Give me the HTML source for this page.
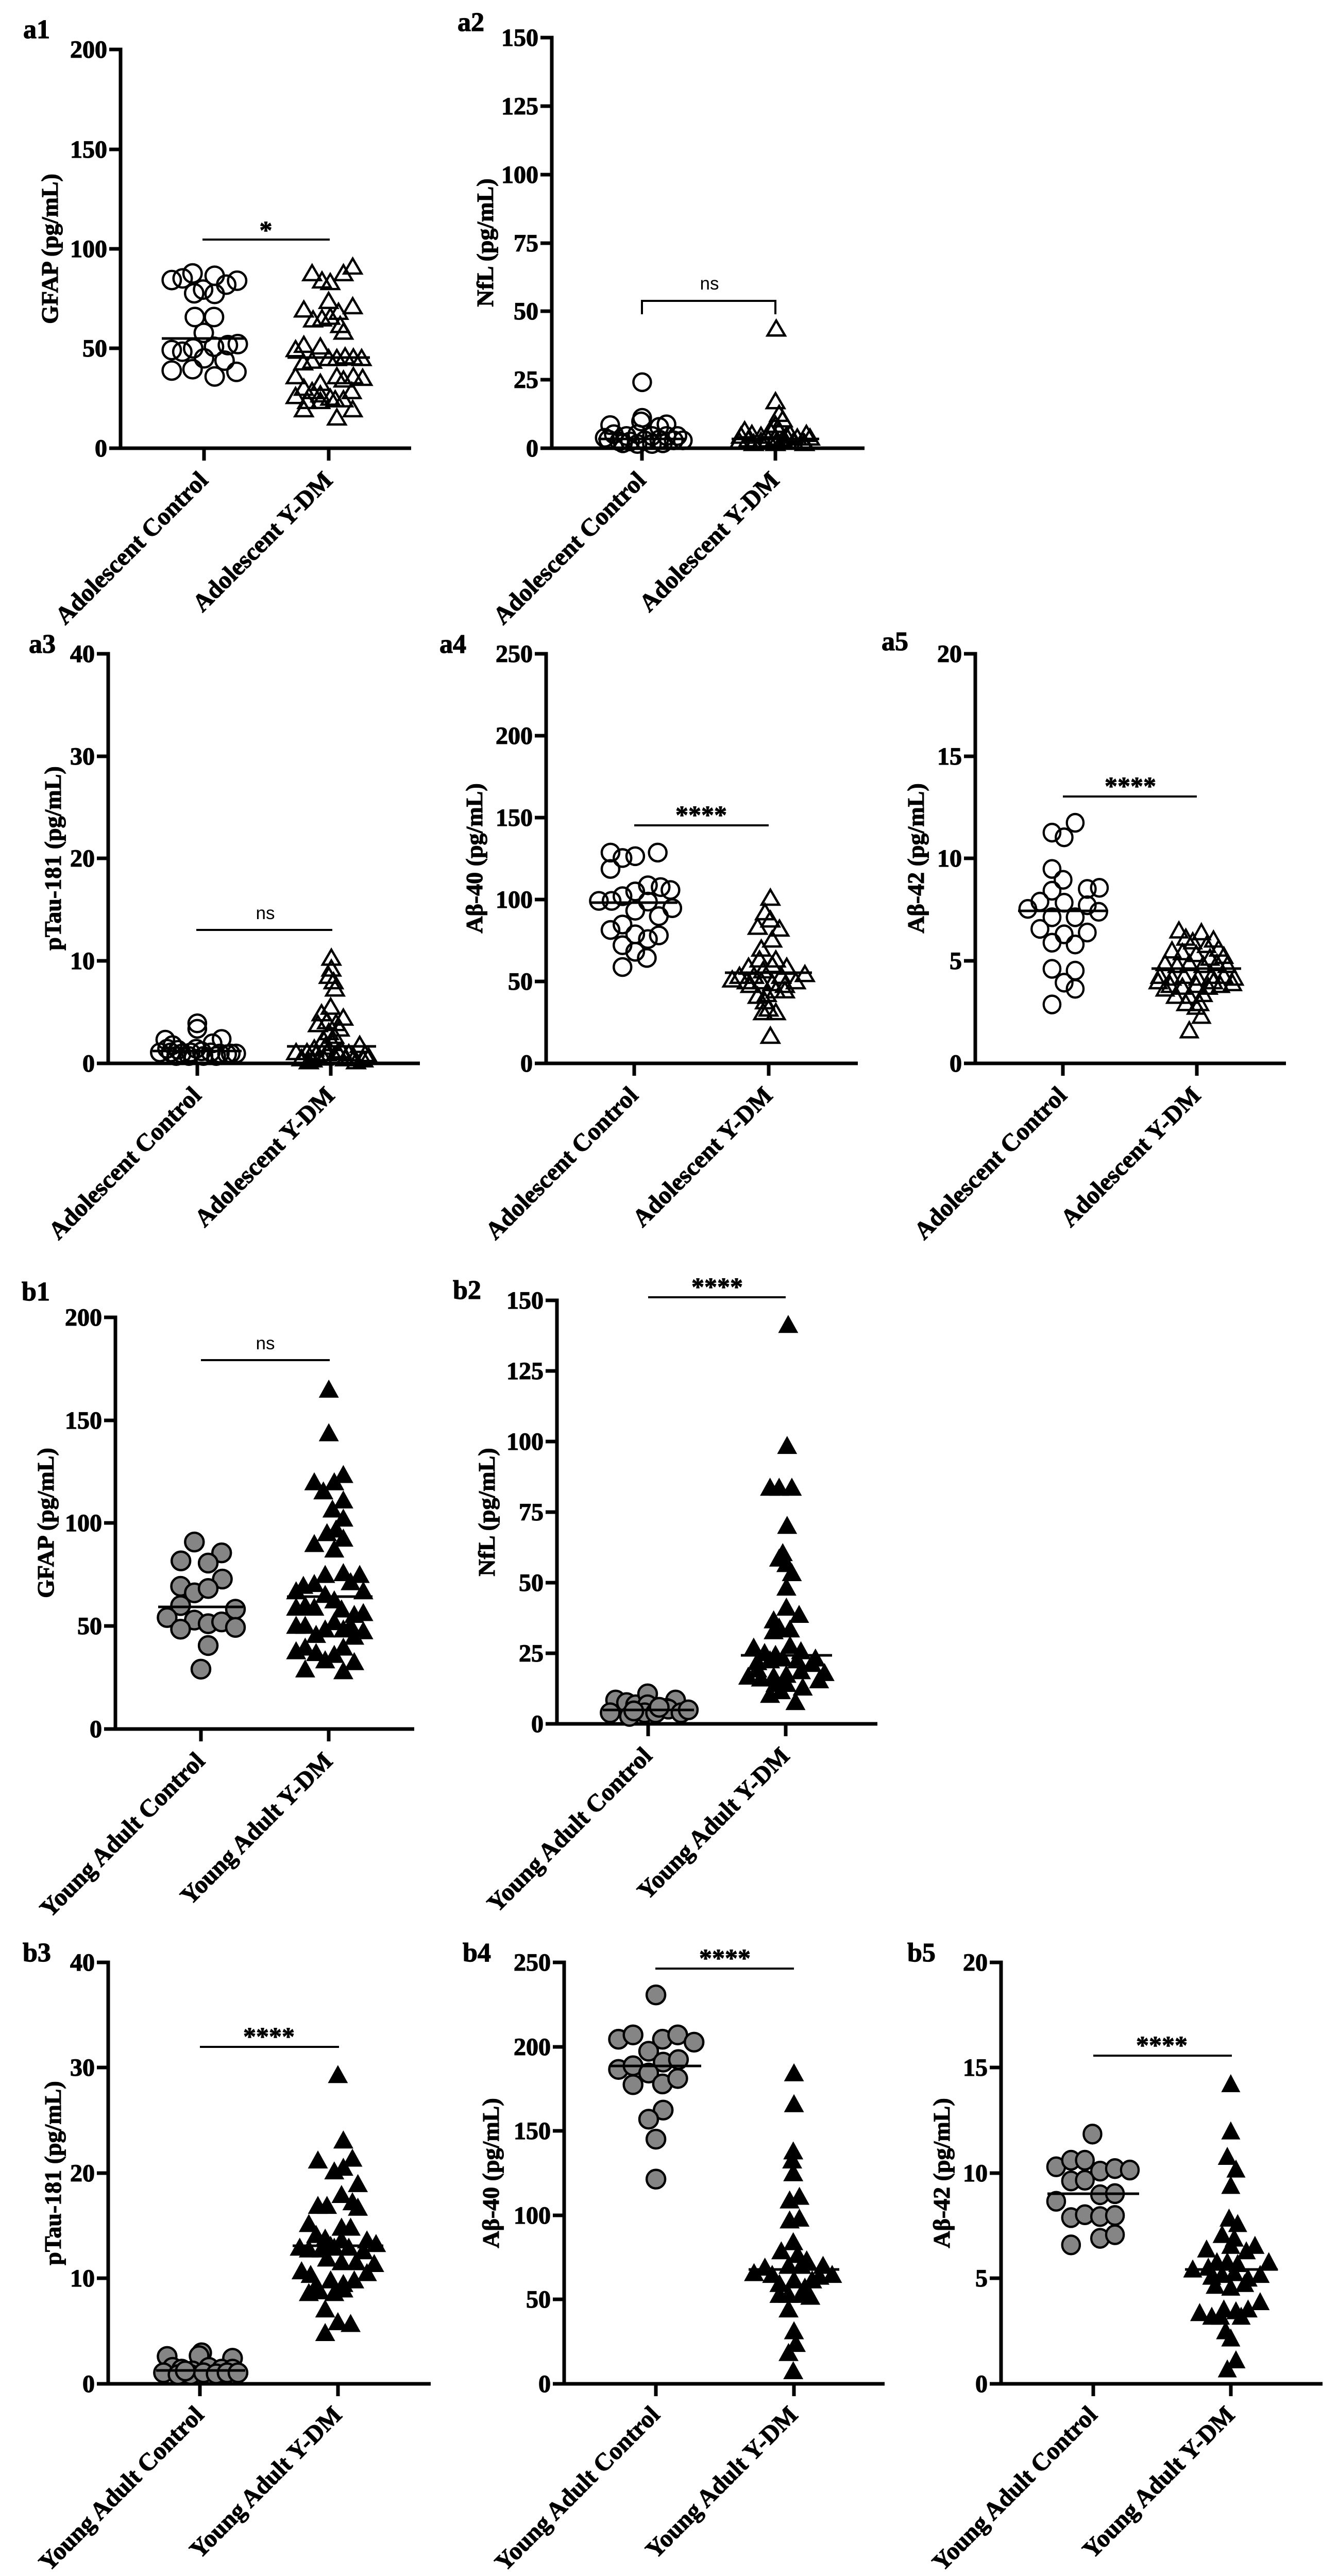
<!DOCTYPE html>
<html>
<head>
<meta charset="utf-8">
<style>
html,body{margin:0;padding:0;background:#fff;width:2597px;height:5008px;overflow:hidden;}
svg{display:block;overflow:hidden;}
.t{font-family:"Liberation Serif",serif;font-weight:bold;font-size:48px;text-anchor:end;fill:#000;stroke:#000;stroke-width:1.2px;}
.yl{font-family:"Liberation Serif",serif;font-weight:bold;font-size:46px;text-anchor:middle;fill:#000;stroke:#000;stroke-width:1.1px;}
.xl{font-family:"Liberation Serif",serif;font-weight:bold;font-size:48px;text-anchor:end;fill:#000;stroke:#000;stroke-width:1.1px;}
.pl{font-family:"Liberation Serif",serif;font-weight:bold;font-size:52px;fill:#000;stroke:#000;stroke-width:1.2px;}
.ns{font-family:"Liberation Sans",sans-serif;font-size:35px;text-anchor:middle;fill:#000;}
.st{font-family:"Liberation Serif",serif;font-weight:bold;font-size:50px;text-anchor:middle;fill:#000;stroke:#000;stroke-width:1px;}
.ax{stroke:#000;stroke-width:7;fill:none;}
.sg{stroke:#000;stroke-width:4;fill:none;}
.md{stroke:#000;stroke-width:5;fill:none;}
</style>
</head>
<body>
<svg width="2597" height="5008" viewBox="0 0 2597 5008" xmlns="http://www.w3.org/2000/svg">
<defs>
<circle id="oc" r="24.1" fill="none" stroke="#000" stroke-width="6.4"/>
<polygon id="ot" points="0,-22.7 24.1,18.4 -24.1,18.4" fill="none" stroke="#000" stroke-width="6.4"/>
<circle id="oc2" r="27.7" fill="none" stroke="#000" stroke-width="7"/>
<polygon id="ot2" points="0,-25 26.5,20.3 -26.5,20.3" fill="none" stroke="#000" stroke-width="7"/>
<circle id="gc" r="25.5" fill="#858585" stroke="#000" stroke-width="6.4"/>
<polygon id="ft" points="0,-27 27.6,22.7 -27.6,22.7" fill="#000"/>
</defs>
<rect width="2597" height="5008" fill="#fff"/>

<!-- ================= a1 ================= -->
<text class="pl" x="45" y="74">a1</text>
<path class="ax" d="M234 92.5V873.5 M212 870H798 M212 96H234 M212 290H234 M212 483H234 M212 676H234 M396 870V894 M638 870V894"/>
<text class="t" x="208" y="112">200</text>
<text class="t" x="208" y="306">150</text>
<text class="t" x="208" y="499">100</text>
<text class="t" x="208" y="692">50</text>
<text class="t" x="208" y="886">0</text>
<text class="yl" transform="translate(112,483) rotate(-90)">GFAP (pg/mL)</text>
<text class="xl" transform="translate(406,935) rotate(-45)">Adolescent Control</text>
<text class="xl" transform="translate(648,935) rotate(-45)">Adolescent Y-DM</text>
<g transform="scale(0.641)">
<use href="#oc2" x="520" y="848"/><use href="#oc2" x="553" y="843"/><use href="#oc2" x="583" y="828"/><use href="#oc2" x="650" y="835"/><use href="#oc2" x="718" y="850"/><use href="#oc2" x="588" y="888"/><use href="#oc2" x="615" y="877"/><use href="#oc2" x="650" y="890"/><use href="#oc2" x="685" y="862"/><use href="#oc2" x="590" y="960"/><use href="#oc2" x="648" y="960"/><use href="#oc2" x="617" y="1008"/><use href="#oc2" x="520" y="1060"/><use href="#oc2" x="552" y="1065"/><use href="#oc2" x="585" y="1055"/><use href="#oc2" x="648" y="1050"/><use href="#oc2" x="690" y="1045"/><use href="#oc2" x="720" y="1042"/><use href="#oc2" x="618" y="1085"/><use href="#oc2" x="680" y="1092"/><use href="#oc2" x="520" y="1122"/><use href="#oc2" x="583" y="1118"/><use href="#oc2" x="650" y="1140"/><use href="#oc2" x="716" y="1126"/>
<use href="#ot2" x="945" y="828"/><use href="#ot2" x="975" y="850"/><use href="#ot2" x="1000" y="855"/><use href="#ot2" x="1040" y="828"/><use href="#ot2" x="1068" y="808"/><use href="#ot2" x="995" y="912"/><use href="#ot2" x="920" y="938"/><use href="#ot2" x="948" y="968"/><use href="#ot2" x="975" y="965"/><use href="#ot2" x="1000" y="960"/><use href="#ot2" x="1025" y="945"/><use href="#ot2" x="1068" y="928"/><use href="#ot2" x="1040" y="1005"/><use href="#ot2" x="1030" y="985"/><use href="#ot2" x="895" y="1058"/><use href="#ot2" x="920" y="1045"/><use href="#ot2" x="970" y="1050"/><use href="#ot2" x="995" y="1085"/><use href="#ot2" x="945" y="1093"/><use href="#ot2" x="918" y="1098"/><use href="#ot2" x="1020" y="1085"/><use href="#ot2" x="1045" y="1080"/><use href="#ot2" x="1070" y="1083"/><use href="#ot2" x="1095" y="1085"/><use href="#ot2" x="895" y="1140"/><use href="#ot2" x="920" y="1175"/><use href="#ot2" x="945" y="1185"/><use href="#ot2" x="970" y="1160"/><use href="#ot2" x="1000" y="1205"/><use href="#ot2" x="1020" y="1140"/><use href="#ot2" x="1040" y="1150"/><use href="#ot2" x="1070" y="1140"/><use href="#ot2" x="1098" y="1145"/><use href="#ot2" x="895" y="1200"/><use href="#ot2" x="930" y="1215"/><use href="#ot2" x="970" y="1215"/><use href="#ot2" x="1015" y="1210"/><use href="#ot2" x="1040" y="1210"/><use href="#ot2" x="1065" y="1185"/><use href="#ot2" x="1068" y="1240"/><use href="#ot2" x="920" y="1240"/><use href="#ot2" x="1020" y="1265"/><use href="#ot2" x="970" y="1195"/>
</g>
<path class="md" d="M314 657H474 M558 694H718"/>
<path class="sg" d="M393 465H640"/>
<text class="st" x="516" y="463">*</text>

<!-- ================= a2 ================= -->
<text class="pl" x="888" y="60">a2</text>
<path class="ax" d="M1071 69.5V873.5 M1049 870H1678 M1049 737H1071 M1049 604H1071 M1049 472H1071 M1049 339H1071 M1049 206H1071 M1049 73H1071 M1246 870V894 M1505 870V894"/>
<text class="t" x="1045" y="886">0</text>
<text class="t" x="1045" y="753">25</text>
<text class="t" x="1045" y="620">50</text>
<text class="t" x="1045" y="488">75</text>
<text class="t" x="1045" y="355">100</text>
<text class="t" x="1045" y="222">125</text>
<text class="t" x="1045" y="89">150</text>
<text class="yl" transform="translate(957,471) rotate(-90)">NfL (pg/mL)</text>
<text class="xl" transform="translate(1256,935) rotate(-45)">Adolescent Control</text>
<text class="xl" transform="translate(1515,935) rotate(-45)">Adolescent Y-DM</text>
<g transform="translate(800,0) scale(0.7052)">
<use href="#oc" x="633" y="1052"/><use href="#oc" x="633" y="1150"/><use href="#oc" x="545" y="1170"/><use href="#oc" x="630" y="1160"/><use href="#oc" x="700" y="1168"/><use href="#oc" x="680" y="1175"/><use href="#oc" x="555" y="1195"/><use href="#oc" x="590" y="1200"/><use href="#oc" x="620" y="1195"/><use href="#oc" x="660" y="1200"/><use href="#oc" x="700" y="1200"/><use href="#oc" x="730" y="1200"/><use href="#oc" x="540" y="1210"/><use href="#oc" x="570" y="1215"/><use href="#oc" x="600" y="1215"/><use href="#oc" x="640" y="1212"/><use href="#oc" x="680" y="1210"/><use href="#oc" x="720" y="1212"/><use href="#oc" x="745" y="1212"/><use href="#oc" x="580" y="1220"/><use href="#oc" x="620" y="1222"/><use href="#oc" x="660" y="1222"/><use href="#oc" x="690" y="1220"/><use href="#oc" x="530" y="1205"/>
<use href="#ot" x="1002" y="905"/><use href="#ot" x="1000" y="1105"/><use href="#ot" x="1010" y="1140"/><use href="#ot" x="1020" y="1155"/><use href="#ot" x="1000" y="1170"/><use href="#ot" x="985" y="1185"/><use href="#ot" x="915" y="1185"/><use href="#ot" x="935" y="1195"/><use href="#ot" x="905" y="1200"/><use href="#ot" x="960" y="1200"/><use href="#ot" x="1040" y="1195"/><use href="#ot" x="1085" y="1195"/><use href="#ot" x="1060" y="1205"/><use href="#ot" x="1095" y="1205"/><use href="#ot" x="925" y="1210"/><use href="#ot" x="980" y="1210"/><use href="#ot" x="1020" y="1210"/><use href="#ot" x="1050" y="1215"/><use href="#ot" x="1075" y="1215"/><use href="#ot" x="940" y="1220"/><use href="#ot" x="1000" y="1220"/><use href="#ot" x="1080" y="1220"/><use href="#ot" x="900" y="1215"/><use href="#ot" x="1000" y="1205"/><use href="#ot" x="1030" y="1200"/><use href="#ot" x="960" y="1215"/><use href="#ot" x="1010" y="1185"/>
</g>
<path class="md" d="M1161 852H1331 M1420 852H1590"/>
<path class="sg" d="M1246 610V584H1505V610"/>
<text class="ns" x="1377" y="562">ns</text>

<!-- ================= a3 ================= -->
<text class="pl" x="56" y="1267">a3</text>
<path class="ax" d="M210 1265.5V2067.5 M188 2064H815 M188 1865H210 M188 1666H210 M188 1468H210 M188 1269H210 M383 2064V2088 M642 2064V2088"/>
<text class="t" x="184" y="2080">0</text>
<text class="t" x="184" y="1881">10</text>
<text class="t" x="184" y="1682">20</text>
<text class="t" x="184" y="1484">30</text>
<text class="t" x="184" y="1285">40</text>
<text class="yl" transform="translate(118,1666) rotate(-90)">pTau-181 (pg/mL)</text>
<text class="xl" transform="translate(393,2129) rotate(-45)">Adolescent Control</text>
<text class="xl" transform="translate(652,2129) rotate(-45)">Adolescent Y-DM</text>
<g transform="translate(0,1200) scale(0.7052)">
<use href="#oc" x="543" y="1115"/><use href="#oc" x="543" y="1130"/><use href="#oc" x="455" y="1160"/><use href="#oc" x="475" y="1175"/><use href="#oc" x="610" y="1158"/><use href="#oc" x="585" y="1170"/><use href="#oc" x="440" y="1195"/><use href="#oc" x="470" y="1195"/><use href="#oc" x="500" y="1198"/><use href="#oc" x="525" y="1195"/><use href="#oc" x="555" y="1192"/><use href="#oc" x="580" y="1195"/><use href="#oc" x="605" y="1198"/><use href="#oc" x="635" y="1198"/><use href="#oc" x="650" y="1198"/><use href="#oc" x="485" y="1205"/><use href="#oc" x="520" y="1205"/><use href="#oc" x="560" y="1205"/><use href="#oc" x="595" y="1205"/><use href="#oc" x="625" y="1200"/><use href="#oc" x="490" y="1188"/><use href="#oc" x="540" y="1185"/><use href="#oc" x="460" y="1185"/>
<use href="#ot" x="912" y="935"/><use href="#ot" x="912" y="965"/><use href="#ot" x="905" y="985"/><use href="#ot" x="918" y="1000"/><use href="#ot" x="922" y="1020"/><use href="#ot" x="910" y="1070"/><use href="#ot" x="885" y="1088"/><use href="#ot" x="945" y="1100"/><use href="#ot" x="875" y="1118"/><use href="#ot" x="925" y="1115"/><use href="#ot" x="900" y="1110"/><use href="#ot" x="935" y="1130"/><use href="#ot" x="905" y="1140"/><use href="#ot" x="920" y="1150"/><use href="#ot" x="890" y="1160"/><use href="#ot" x="915" y="1170"/><use href="#ot" x="990" y="1175"/><use href="#ot" x="815" y="1195"/><use href="#ot" x="845" y="1195"/><use href="#ot" x="870" y="1200"/><use href="#ot" x="900" y="1198"/><use href="#ot" x="930" y="1195"/><use href="#ot" x="960" y="1198"/><use href="#ot" x="1005" y="1200"/><use href="#ot" x="1015" y="1208"/><use href="#ot" x="830" y="1212"/><use href="#ot" x="860" y="1215"/><use href="#ot" x="890" y="1210"/><use href="#ot" x="950" y="1212"/><use href="#ot" x="975" y="1210"/><use href="#ot" x="920" y="1205"/><use href="#ot" x="850" y="1220"/><use href="#ot" x="980" y="1220"/><use href="#ot" x="1000" y="1215"/><use href="#ot" x="940" y="1190"/><use href="#ot" x="865" y="1185"/><use href="#ot" x="895" y="1180"/>
</g>
<path class="md" d="M296 2040H469 M557 2031H730"/>
<path class="sg" d="M381 1805H645"/>
<text class="ns" x="515" y="1784">ns</text>

<!-- ================= a4 ================= -->
<text class="pl" x="853" y="1267">a4</text>
<path class="ax" d="M1060 1265.5V2067.5 M1038 2064H1665 M1038 1905H1060 M1038 1746H1060 M1038 1587H1060 M1038 1428H1060 M1038 1269H1060 M1231 2064V2088 M1492 2064V2088"/>
<text class="t" x="1034" y="2080">0</text>
<text class="t" x="1034" y="1921">50</text>
<text class="t" x="1034" y="1762">100</text>
<text class="t" x="1034" y="1603">150</text>
<text class="t" x="1034" y="1444">200</text>
<text class="t" x="1034" y="1285">250</text>
<text class="yl" transform="translate(936,1666) rotate(-90)">Aβ-40 (pg/mL)</text>
<text class="xl" transform="translate(1241,2129) rotate(-45)">Adolescent Control</text>
<text class="xl" transform="translate(1502,2129) rotate(-45)">Adolescent Y-DM</text>
<g transform="translate(850,1200) scale(0.7052)">
<use href="#oc" x="475" y="645"/><use href="#oc" x="508" y="660"/><use href="#oc" x="543" y="655"/><use href="#oc" x="605" y="645"/><use href="#oc" x="475" y="690"/><use href="#oc" x="578" y="735"/><use href="#oc" x="613" y="740"/><use href="#oc" x="640" y="748"/><use href="#oc" x="443" y="778"/><use href="#oc" x="478" y="778"/><use href="#oc" x="508" y="765"/><use href="#oc" x="543" y="752"/><use href="#oc" x="578" y="780"/><use href="#oc" x="543" y="805"/><use href="#oc" x="608" y="820"/><use href="#oc" x="645" y="798"/><use href="#oc" x="508" y="843"/><use href="#oc" x="475" y="858"/><use href="#oc" x="543" y="870"/><use href="#oc" x="608" y="873"/><use href="#oc" x="508" y="900"/><use href="#oc" x="578" y="883"/><use href="#oc" x="543" y="918"/><use href="#oc" x="575" y="935"/><use href="#oc" x="508" y="960"/>
<use href="#ot" x="915" y="770"/><use href="#ot" x="900" y="810"/><use href="#ot" x="915" y="830"/><use href="#ot" x="880" y="850"/><use href="#ot" x="940" y="855"/><use href="#ot" x="920" y="885"/><use href="#ot" x="890" y="910"/><use href="#ot" x="885" y="940"/><use href="#ot" x="930" y="940"/><use href="#ot" x="855" y="960"/><use href="#ot" x="960" y="960"/><use href="#ot" x="920" y="955"/><use href="#ot" x="895" y="970"/><use href="#ot" x="830" y="985"/><use href="#ot" x="945" y="985"/><use href="#ot" x="1010" y="980"/><use href="#ot" x="985" y="1000"/><use href="#ot" x="810" y="995"/><use href="#ot" x="860" y="1010"/><use href="#ot" x="890" y="1000"/><use href="#ot" x="920" y="1005"/><use href="#ot" x="955" y="1010"/><use href="#ot" x="905" y="1035"/><use href="#ot" x="930" y="1025"/><use href="#ot" x="955" y="1025"/><use href="#ot" x="880" y="1040"/><use href="#ot" x="900" y="1055"/><use href="#ot" x="910" y="1075"/><use href="#ot" x="895" y="1085"/><use href="#ot" x="930" y="1085"/><use href="#ot" x="915" y="1150"/><use href="#ot" x="850" y="1000"/><use href="#ot" x="870" y="985"/>
</g>
<path class="md" d="M1146 1752H1315 M1407 1888H1576"/>
<path class="sg" d="M1231 1602H1492"/>
<text class="st" x="1361" y="1598">****</text>

<!-- ================= a5 ================= -->
<text class="pl" x="1711" y="1262">a5</text>
<path class="ax" d="M1893 1265.5V2067.5 M1871 2064H2496 M1871 1865H1893 M1871 1666H1893 M1871 1468H1893 M1871 1269H1893 M2063 2064V2088 M2323 2064V2088"/>
<text class="t" x="1867" y="2080">0</text>
<text class="t" x="1867" y="1881">5</text>
<text class="t" x="1867" y="1682">10</text>
<text class="t" x="1867" y="1484">15</text>
<text class="t" x="1867" y="1285">20</text>
<text class="yl" transform="translate(1793,1666) rotate(-90)">Aβ-42 (pg/mL)</text>
<text class="xl" transform="translate(2073,2129) rotate(-45)">Adolescent Control</text>
<text class="xl" transform="translate(2333,2129) rotate(-45)">Adolescent Y-DM</text>
<g transform="translate(1550,1200) scale(0.6711,0.7052)">
<use href="#oc" x="800" y="563"/><use href="#oc" x="733" y="590"/><use href="#oc" x="768" y="603"/><use href="#oc" x="733" y="690"/><use href="#oc" x="765" y="720"/><use href="#oc" x="733" y="750"/><use href="#oc" x="835" y="745"/><use href="#oc" x="870" y="742"/><use href="#oc" x="698" y="780"/><use href="#oc" x="663" y="800"/><use href="#oc" x="768" y="783"/><use href="#oc" x="835" y="790"/><use href="#oc" x="868" y="808"/><use href="#oc" x="733" y="823"/><use href="#oc" x="800" y="823"/><use href="#oc" x="698" y="855"/><use href="#oc" x="768" y="870"/><use href="#oc" x="835" y="865"/><use href="#oc" x="733" y="893"/><use href="#oc" x="800" y="898"/><use href="#oc" x="733" y="965"/><use href="#oc" x="800" y="970"/><use href="#oc" x="768" y="1003"/><use href="#oc" x="800" y="1020"/><use href="#oc" x="733" y="1063"/>
<use href="#ot" x="1100" y="860"/><use href="#ot" x="1165" y="865"/><use href="#ot" x="1120" y="880"/><use href="#ot" x="1200" y="885"/><use href="#ot" x="1140" y="890"/><use href="#ot" x="1180" y="900"/><use href="#ot" x="1215" y="910"/><use href="#ot" x="1080" y="915"/><use href="#ot" x="1110" y="920"/><use href="#ot" x="1150" y="925"/><use href="#ot" x="1230" y="930"/><use href="#ot" x="1190" y="935"/><use href="#ot" x="1060" y="950"/><use href="#ot" x="1095" y="955"/><use href="#ot" x="1130" y="950"/><use href="#ot" x="1170" y="955"/><use href="#ot" x="1210" y="950"/><use href="#ot" x="1240" y="955"/><use href="#ot" x="1045" y="985"/><use href="#ot" x="1080" y="990"/><use href="#ot" x="1115" y="985"/><use href="#ot" x="1155" y="990"/><use href="#ot" x="1195" y="985"/><use href="#ot" x="1230" y="985"/><use href="#ot" x="1260" y="990"/><use href="#ot" x="1040" y="1000"/><use href="#ot" x="1075" y="1010"/><use href="#ot" x="1110" y="1015"/><use href="#ot" x="1150" y="1010"/><use href="#ot" x="1185" y="1015"/><use href="#ot" x="1220" y="1010"/><use href="#ot" x="1255" y="1005"/><use href="#ot" x="1090" y="1040"/><use href="#ot" x="1130" y="1040"/><use href="#ot" x="1170" y="1035"/><use href="#ot" x="1120" y="1060"/><use href="#ot" x="1160" y="1060"/><use href="#ot" x="1150" y="1070"/><use href="#ot" x="1165" y="1095"/><use href="#ot" x="1130" y="1135"/><use href="#ot" x="1060" y="1020"/><use href="#ot" x="1200" y="1000"/>
</g>
<path class="md" d="M1976 1768H2151 M2235 1880H2409"/>
<path class="sg" d="M2063 1546H2323"/>
<text class="st" x="2194" y="1542">****</text>

<!-- ================= b1 ================= -->
<text class="pl" x="42" y="2524">b1</text>
<path class="ax" d="M224 2553.5V3359.5 M202 3356H804 M202 3156H224 M202 2956H224 M202 2757H224 M202 2557H224 M390 3356V3380 M638 3356V3380"/>
<text class="t" x="198" y="3372">0</text>
<text class="t" x="198" y="3172">50</text>
<text class="t" x="198" y="2972">100</text>
<text class="t" x="198" y="2773">150</text>
<text class="t" x="198" y="2573">200</text>
<text class="yl" transform="translate(104,2956) rotate(-90)">GFAP (pg/mL)</text>
<text class="xl" transform="translate(400,3421) rotate(-45)">Young Adult Control</text>
<text class="xl" transform="translate(648,3421) rotate(-45)">Young Adult Y-DM</text>
<g transform="translate(0,2450) scale(0.7052)">
<use href="#gc" x="535" y="770"/><use href="#gc" x="498" y="822"/><use href="#gc" x="610" y="800"/><use href="#gc" x="573" y="828"/><use href="#gc" x="612" y="872"/><use href="#gc" x="497" y="892"/><use href="#gc" x="535" y="910"/><use href="#gc" x="573" y="898"/><use href="#gc" x="497" y="945"/><use href="#gc" x="460" y="978"/><use href="#gc" x="535" y="985"/><use href="#gc" x="573" y="995"/><use href="#gc" x="610" y="990"/><use href="#gc" x="648" y="955"/><use href="#gc" x="648" y="1005"/><use href="#gc" x="497" y="1010"/><use href="#gc" x="573" y="1055"/><use href="#gc" x="553" y="1120"/>
<use href="#ft" x="905" y="350"/><use href="#ft" x="905" y="470"/><use href="#ft" x="865" y="605"/><use href="#ft" x="945" y="585"/><use href="#ft" x="920" y="605"/><use href="#ft" x="890" y="630"/><use href="#ft" x="945" y="655"/><use href="#ft" x="915" y="680"/><use href="#ft" x="945" y="705"/><use href="#ft" x="900" y="745"/><use href="#ft" x="925" y="735"/><use href="#ft" x="865" y="775"/><use href="#ft" x="945" y="760"/><use href="#ft" x="920" y="790"/><use href="#ft" x="895" y="860"/><use href="#ft" x="865" y="885"/><use href="#ft" x="835" y="890"/><use href="#ft" x="815" y="905"/><use href="#ft" x="945" y="855"/><use href="#ft" x="990" y="860"/><use href="#ft" x="965" y="880"/><use href="#ft" x="1000" y="905"/><use href="#ft" x="895" y="915"/><use href="#ft" x="920" y="930"/><use href="#ft" x="815" y="950"/><use href="#ft" x="840" y="945"/><use href="#ft" x="865" y="950"/><use href="#ft" x="940" y="955"/><use href="#ft" x="975" y="970"/><use href="#ft" x="1000" y="965"/><use href="#ft" x="815" y="1000"/><use href="#ft" x="840" y="1000"/><use href="#ft" x="870" y="1025"/><use href="#ft" x="895" y="1010"/><use href="#ft" x="920" y="990"/><use href="#ft" x="945" y="1010"/><use href="#ft" x="975" y="1030"/><use href="#ft" x="1000" y="1015"/><use href="#ft" x="815" y="1070"/><use href="#ft" x="840" y="1060"/><use href="#ft" x="870" y="1075"/><use href="#ft" x="895" y="1095"/><use href="#ft" x="920" y="1080"/><use href="#ft" x="945" y="1060"/><use href="#ft" x="975" y="1100"/><use href="#ft" x="840" y="1120"/><use href="#ft" x="945" y="1125"/><use href="#ft" x="965" y="1000"/>
</g>
<path class="md" d="M307 3119H472 M557 3099H723"/>
<path class="sg" d="M390 2640H640"/>
<text class="ns" x="515" y="2619">ns</text>

<!-- ================= b2 ================= -->
<text class="pl" x="879" y="2521">b2</text>
<path class="ax" d="M1081 2520.5V3349.5 M1059 3346H1703 M1059 3209H1081 M1059 3072H1081 M1059 2935H1081 M1059 2798H1081 M1059 2661H1081 M1059 2524H1081 M1258 3346V3370 M1525 3346V3370"/>
<text class="t" x="1055" y="3362">0</text>
<text class="t" x="1055" y="3225">25</text>
<text class="t" x="1055" y="3088">50</text>
<text class="t" x="1055" y="2951">75</text>
<text class="t" x="1055" y="2814">100</text>
<text class="t" x="1055" y="2677">125</text>
<text class="t" x="1055" y="2540">150</text>
<text class="yl" transform="translate(960,2935) rotate(-90)">NfL (pg/mL)</text>
<text class="xl" transform="translate(1268,3411) rotate(-45)">Young Adult Control</text>
<text class="xl" transform="translate(1535,3411) rotate(-45)">Young Adult Y-DM</text>
<g transform="translate(800,2450) scale(0.7052)">
<use href="#gc" x="560" y="1205"/><use href="#gc" x="590" y="1212"/><use href="#gc" x="615" y="1218"/><use href="#gc" x="648" y="1188"/><use href="#gc" x="648" y="1218"/><use href="#gc" x="725" y="1205"/><use href="#gc" x="700" y="1228"/><use href="#gc" x="545" y="1240"/><use href="#gc" x="598" y="1250"/><use href="#gc" x="640" y="1240"/><use href="#gc" x="670" y="1240"/><use href="#gc" x="705" y="1230"/><use href="#gc" x="740" y="1240"/><use href="#gc" x="760" y="1232"/><use href="#gc" x="610" y="1235"/><use href="#gc" x="680" y="1225"/>
<use href="#ft" x="1035" y="172"/><use href="#ft" x="1032" y="505"/><use href="#ft" x="985" y="620"/><use href="#ft" x="1010" y="620"/><use href="#ft" x="1045" y="620"/><use href="#ft" x="1032" y="725"/><use href="#ft" x="1020" y="800"/><use href="#ft" x="1010" y="815"/><use href="#ft" x="1030" y="830"/><use href="#ft" x="1045" y="855"/><use href="#ft" x="1030" y="895"/><use href="#ft" x="1030" y="950"/><use href="#ft" x="995" y="985"/><use href="#ft" x="1065" y="970"/><use href="#ft" x="1010" y="1005"/><use href="#ft" x="1040" y="1010"/><use href="#ft" x="995" y="1015"/><use href="#ft" x="940" y="1060"/><use href="#ft" x="970" y="1075"/><use href="#ft" x="1000" y="1080"/><use href="#ft" x="1040" y="1055"/><use href="#ft" x="1070" y="1070"/><use href="#ft" x="1110" y="1090"/><use href="#ft" x="950" y="1100"/><use href="#ft" x="985" y="1095"/><use href="#ft" x="1020" y="1090"/><use href="#ft" x="1060" y="1095"/><use href="#ft" x="1100" y="1105"/><use href="#ft" x="925" y="1140"/><use href="#ft" x="960" y="1145"/><use href="#ft" x="995" y="1140"/><use href="#ft" x="1030" y="1135"/><use href="#ft" x="1070" y="1125"/><use href="#ft" x="1135" y="1130"/><use href="#ft" x="1120" y="1150"/><use href="#ft" x="985" y="1190"/><use href="#ft" x="1015" y="1180"/><use href="#ft" x="1075" y="1170"/><use href="#ft" x="1055" y="1210"/><use href="#ft" x="1030" y="1160"/><use href="#ft" x="1000" y="1160"/><use href="#ft" x="950" y="1120"/>
</g>
<path class="md" d="M1170 3319H1347 M1438 3213H1615"/>
<path class="sg" d="M1258 2518H1525"/>
<text class="st" x="1392" y="2514">****</text>

<!-- ================= b3 ================= -->
<text class="pl" x="44" y="3807">b3</text>
<path class="ax" d="M210 3805.5V4630.5 M188 4627H836 M188 4422H210 M188 4218H210 M188 4013H210 M188 3809H210 M388 4627V4651 M656 4627V4651"/>
<text class="t" x="184" y="4643">0</text>
<text class="t" x="184" y="4438">10</text>
<text class="t" x="184" y="4234">20</text>
<text class="t" x="184" y="4029">30</text>
<text class="t" x="184" y="3825">40</text>
<text class="yl" transform="translate(118,4218) rotate(-90)">pTau-181 (pg/mL)</text>
<text class="xl" transform="translate(398,4690) rotate(-45)">Young Adult Control</text>
<text class="xl" transform="translate(666,4690) rotate(-45)">Young Adult Y-DM</text>
<g transform="translate(0,3650) scale(0.7052)">
<use href="#gc" x="460" y="1310"/><use href="#gc" x="555" y="1300"/><use href="#gc" x="548" y="1308"/><use href="#gc" x="640" y="1315"/><use href="#gc" x="475" y="1340"/><use href="#gc" x="500" y="1345"/><use href="#gc" x="530" y="1350"/><use href="#gc" x="575" y="1340"/><use href="#gc" x="610" y="1345"/><use href="#gc" x="640" y="1345"/><use href="#gc" x="450" y="1355"/><use href="#gc" x="490" y="1360"/><use href="#gc" x="525" y="1360"/><use href="#gc" x="560" y="1355"/><use href="#gc" x="595" y="1358"/><use href="#gc" x="625" y="1355"/><use href="#gc" x="655" y="1355"/><use href="#gc" x="510" y="1350"/>
<use href="#ft" x="930" y="535"/><use href="#ft" x="945" y="715"/><use href="#ft" x="875" y="770"/><use href="#ft" x="970" y="765"/><use href="#ft" x="920" y="800"/><use href="#ft" x="945" y="790"/><use href="#ft" x="985" y="835"/><use href="#ft" x="940" y="865"/><use href="#ft" x="875" y="895"/><use href="#ft" x="900" y="895"/><use href="#ft" x="970" y="885"/><use href="#ft" x="985" y="900"/><use href="#ft" x="850" y="945"/><use href="#ft" x="940" y="955"/><use href="#ft" x="965" y="955"/><use href="#ft" x="870" y="975"/><use href="#ft" x="895" y="985"/><use href="#ft" x="1010" y="990"/><use href="#ft" x="940" y="990"/><use href="#ft" x="910" y="1005"/><use href="#ft" x="825" y="1010"/><use href="#ft" x="850" y="1015"/><use href="#ft" x="885" y="1015"/><use href="#ft" x="920" y="1010"/><use href="#ft" x="960" y="1010"/><use href="#ft" x="1035" y="1000"/><use href="#ft" x="1000" y="1020"/><use href="#ft" x="900" y="1040"/><use href="#ft" x="940" y="1050"/><use href="#ft" x="980" y="1050"/><use href="#ft" x="1030" y="1055"/><use href="#ft" x="830" y="1075"/><use href="#ft" x="855" y="1085"/><use href="#ft" x="870" y="1115"/><use href="#ft" x="910" y="1100"/><use href="#ft" x="945" y="1110"/><use href="#ft" x="975" y="1100"/><use href="#ft" x="1010" y="1080"/><use href="#ft" x="850" y="1135"/><use href="#ft" x="880" y="1130"/><use href="#ft" x="920" y="1135"/><use href="#ft" x="945" y="1125"/><use href="#ft" x="895" y="1180"/><use href="#ft" x="930" y="1215"/><use href="#ft" x="965" y="1220"/><use href="#ft" x="895" y="1245"/>
</g>
<path class="md" d="M303 4601H476 M568 4359H744"/>
<path class="sg" d="M388 3973H658"/>
<text class="st" x="522" y="3969">****</text>

<!-- ================= b4 ================= -->
<text class="pl" x="898" y="3807">b4</text>
<path class="ax" d="M1095 3805.5V4630.5 M1073 4627H1717 M1073 4463H1095 M1073 4300H1095 M1073 4136H1095 M1073 3973H1095 M1073 3809H1095 M1273 4627V4651 M1541 4627V4651"/>
<text class="t" x="1069" y="4643">0</text>
<text class="t" x="1069" y="4479">50</text>
<text class="t" x="1069" y="4316">100</text>
<text class="t" x="1069" y="4152">150</text>
<text class="t" x="1069" y="3989">200</text>
<text class="t" x="1069" y="3825">250</text>
<text class="yl" transform="translate(968,4218) rotate(-90)">Aβ-40 (pg/mL)</text>
<text class="xl" transform="translate(1283,4690) rotate(-45)">Young Adult Control</text>
<text class="xl" transform="translate(1551,4690) rotate(-45)">Young Adult Y-DM</text>
<g transform="translate(850,3650) scale(0.7052)">
<use href="#gc" x="600" y="315"/><use href="#gc" x="497" y="437"/><use href="#gc" x="537" y="425"/><use href="#gc" x="618" y="437"/><use href="#gc" x="660" y="425"/><use href="#gc" x="705" y="445"/><use href="#gc" x="580" y="470"/><use href="#gc" x="620" y="500"/><use href="#gc" x="662" y="493"/><use href="#gc" x="497" y="520"/><use href="#gc" x="537" y="510"/><use href="#gc" x="580" y="530"/><use href="#gc" x="618" y="560"/><use href="#gc" x="537" y="562"/><use href="#gc" x="660" y="545"/><use href="#gc" x="620" y="632"/><use href="#gc" x="580" y="657"/><use href="#gc" x="600" y="712"/><use href="#gc" x="600" y="822"/>
<use href="#ft" x="980" y="530"/><use href="#ft" x="980" y="615"/><use href="#ft" x="978" y="745"/><use href="#ft" x="975" y="770"/><use href="#ft" x="978" y="805"/><use href="#ft" x="968" y="880"/><use href="#ft" x="995" y="870"/><use href="#ft" x="968" y="935"/><use href="#ft" x="995" y="930"/><use href="#ft" x="978" y="995"/><use href="#ft" x="945" y="1020"/><use href="#ft" x="990" y="1030"/><use href="#ft" x="1015" y="1045"/><use href="#ft" x="900" y="1065"/><use href="#ft" x="870" y="1080"/><use href="#ft" x="920" y="1085"/><use href="#ft" x="965" y="1060"/><use href="#ft" x="1000" y="1060"/><use href="#ft" x="1060" y="1060"/><use href="#ft" x="1085" y="1085"/><use href="#ft" x="1050" y="1090"/><use href="#ft" x="1030" y="1100"/><use href="#ft" x="980" y="1100"/><use href="#ft" x="940" y="1140"/><use href="#ft" x="965" y="1140"/><use href="#ft" x="1000" y="1140"/><use href="#ft" x="1025" y="1145"/><use href="#ft" x="965" y="1180"/><use href="#ft" x="980" y="1240"/><use href="#ft" x="985" y="1275"/><use href="#ft" x="965" y="1300"/><use href="#ft" x="978" y="1350"/><use href="#ft" x="940" y="1110"/><use href="#ft" x="1010" y="1120"/>
</g>
<path class="md" d="M1185 4010H1361 M1453 4405H1629"/>
<path class="sg" d="M1272 3821H1541"/>
<text class="st" x="1407" y="3817">****</text>

<!-- ================= b5 ================= -->
<text class="pl" x="1761" y="3807">b5</text>
<path class="ax" d="M1943 3805.5V4630.5 M1921 4627H2567 M1921 4422H1943 M1921 4218H1943 M1921 4013H1943 M1921 3809H1943 M2122 4627V4651 M2389 4627V4651"/>
<text class="t" x="1917" y="4643">0</text>
<text class="t" x="1917" y="4438">5</text>
<text class="t" x="1917" y="4234">10</text>
<text class="t" x="1917" y="4029">15</text>
<text class="t" x="1917" y="3825">20</text>
<text class="yl" transform="translate(1843,4218) rotate(-90)">Aβ-42 (pg/mL)</text>
<text class="xl" transform="translate(2132,4690) rotate(-45)">Young Adult Control</text>
<text class="xl" transform="translate(2399,4690) rotate(-45)">Young Adult Y-DM</text>
<g transform="translate(1550,3650) scale(0.6711,0.7052)">
<use href="#gc" x="850" y="698"/><use href="#gc" x="745" y="788"/><use href="#gc" x="788" y="770"/><use href="#gc" x="828" y="770"/><use href="#gc" x="872" y="800"/><use href="#gc" x="915" y="793"/><use href="#gc" x="958" y="797"/><use href="#gc" x="788" y="827"/><use href="#gc" x="828" y="825"/><use href="#gc" x="745" y="883"/><use href="#gc" x="872" y="865"/><use href="#gc" x="915" y="862"/><use href="#gc" x="788" y="928"/><use href="#gc" x="828" y="920"/><use href="#gc" x="872" y="925"/><use href="#gc" x="915" y="922"/><use href="#gc" x="872" y="985"/><use href="#gc" x="915" y="975"/><use href="#gc" x="788" y="1003"/>
<use href="#ft" x="1250" y="560"/><use href="#ft" x="1250" y="690"/><use href="#ft" x="1240" y="760"/><use href="#ft" x="1265" y="795"/><use href="#ft" x="1250" y="840"/><use href="#ft" x="1245" y="930"/><use href="#ft" x="1270" y="945"/><use href="#ft" x="1225" y="975"/><use href="#ft" x="1260" y="985"/><use href="#ft" x="1250" y="1005"/><use href="#ft" x="1180" y="1015"/><use href="#ft" x="1320" y="1005"/><use href="#ft" x="1295" y="1020"/><use href="#ft" x="1360" y="1050"/><use href="#ft" x="1140" y="1070"/><use href="#ft" x="1185" y="1065"/><use href="#ft" x="1210" y="1050"/><use href="#ft" x="1240" y="1050"/><use href="#ft" x="1270" y="1055"/><use href="#ft" x="1195" y="1090"/><use href="#ft" x="1225" y="1085"/><use href="#ft" x="1260" y="1080"/><use href="#ft" x="1300" y="1095"/><use href="#ft" x="1335" y="1085"/><use href="#ft" x="1205" y="1115"/><use href="#ft" x="1250" y="1120"/><use href="#ft" x="1290" y="1110"/><use href="#ft" x="1160" y="1190"/><use href="#ft" x="1195" y="1200"/><use href="#ft" x="1230" y="1180"/><use href="#ft" x="1265" y="1185"/><use href="#ft" x="1300" y="1180"/><use href="#ft" x="1335" y="1160"/><use href="#ft" x="1235" y="1240"/><use href="#ft" x="1250" y="1260"/><use href="#ft" x="1265" y="1320"/><use href="#ft" x="1240" y="1345"/><use href="#ft" x="1220" y="1200"/><use href="#ft" x="1280" y="1200"/>
</g>
<path class="md" d="M2033 4258H2211 M2300 4405H2480"/>
<path class="sg" d="M2122 3990H2391"/>
<text class="st" x="2255" y="3986">****</text>
</svg>
</body>
</html>
